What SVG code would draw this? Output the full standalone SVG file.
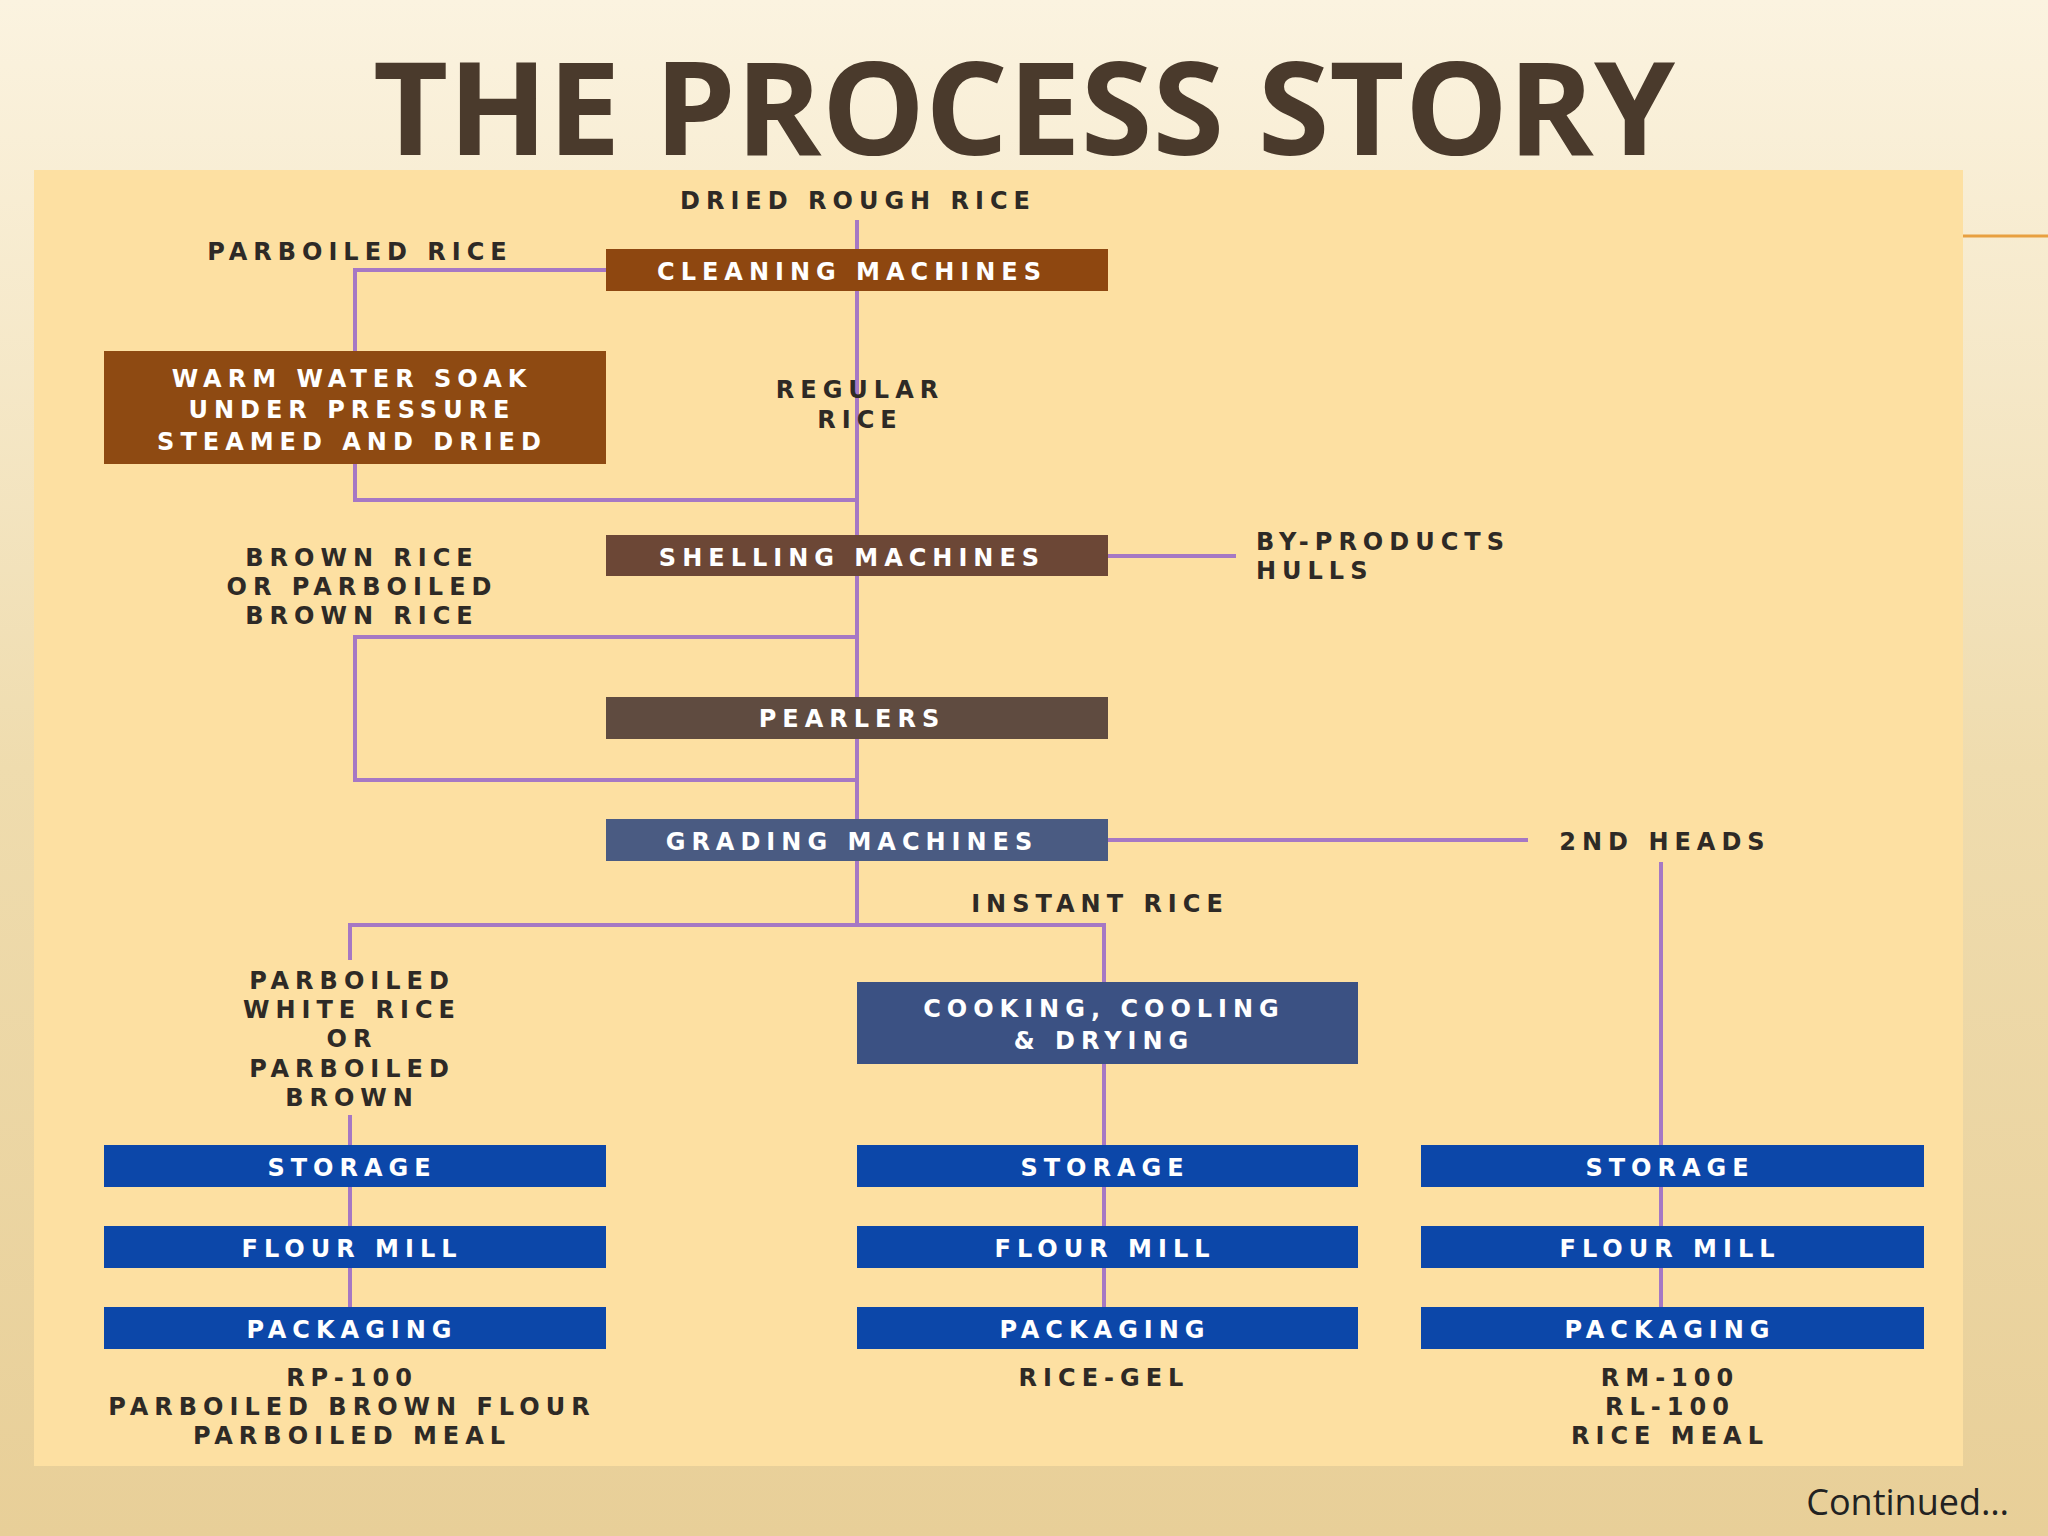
<svg xmlns="http://www.w3.org/2000/svg" width="2048" height="1536" viewBox="0 0 2048 1536">
<defs>
<linearGradient id="bg" x1="0" y1="0" x2="0" y2="1"><stop offset="0" stop-color="#fbf3e0"/><stop offset="0.5" stop-color="#efdcae"/><stop offset="1" stop-color="#e8cf98"/></linearGradient>
</defs>
<style>
.l{stroke:#a678c4;stroke-width:4;fill:none}
.t{font-family:"DejaVu Sans",sans-serif;font-weight:bold;font-size:24px;letter-spacing:6px;fill:#2e2a26;text-anchor:middle}
.s{text-anchor:start}
.w{font-family:"DejaVu Sans",sans-serif;font-weight:bold;font-size:24px;letter-spacing:6px;fill:#fff;text-anchor:middle}
.b{fill:#0c47a9}
</style>
<rect width="2048" height="1536" fill="url(#bg)"/>
<line x1="1963" y1="236" x2="2048" y2="236" stroke="#e8a040" stroke-width="3"/>
<text x="1024" y="155" font-family="'Open Sans',sans-serif" font-weight="bold" font-size="130" fill="#4a3a2c" text-anchor="middle">THE PROCESS STORY</text>
<rect x="34" y="170" width="1929" height="1296" fill="#fde0a2"/>
<g id="connectors">
<path class="l" d="M857 220V925"/>
<path class="l" d="M606 270H355V351M355 464V500H857"/>
<path class="l" d="M857 637H355V780H857"/>
<path class="l" d="M1108 556H1236"/>
<path class="l" d="M1108 840H1528"/>
<path class="l" d="M1661 862V1307"/>
<path class="l" d="M350 960V925H1104V982"/>
<path class="l" d="M350 1115V1307"/>
<path class="l" d="M1104 1064V1307"/>
</g>
<g id="cleaning"><rect x="606" y="249" width="502" height="42" fill="#8e4710"/><text class="w" x="852" y="280">CLEANING MACHINES</text></g>
<g id="soak"><rect x="104" y="351" width="502" height="113" fill="#8e4a12"/><text class="w" x="352" y="387">WARM WATER SOAK</text><text class="w" x="352" y="418">UNDER PRESSURE</text><text class="w" x="352" y="450">STEAMED AND DRIED</text></g>
<g id="shelling"><rect x="606" y="535" width="502" height="41" fill="#6c4736"/><text class="w" x="852" y="566">SHELLING MACHINES</text></g>
<g id="pearlers"><rect x="606" y="697" width="502" height="42" fill="#5f4b40"/><text class="w" x="852" y="727">PEARLERS</text></g>
<g id="grading"><rect x="606" y="819" width="502" height="42" fill="#4a5b82"/><text class="w" x="852" y="850">GRADING MACHINES</text></g>
<g id="cooking"><rect x="857" y="982" width="501" height="82" fill="#3b5183"/><text class="w" x="1104" y="1017">COOKING, COOLING</text><text class="w" x="1104" y="1049">&amp; DRYING</text></g>
<g id="storage1"><rect class="b" x="104" y="1145" width="502" height="42"/><text class="w" x="352" y="1176">STORAGE</text></g>
<g id="flour1"><rect class="b" x="104" y="1226" width="502" height="42"/><text class="w" x="352" y="1257">FLOUR MILL</text></g>
<g id="pack1"><rect class="b" x="104" y="1307" width="502" height="42"/><text class="w" x="352" y="1338">PACKAGING</text></g>
<g id="storage2"><rect class="b" x="857" y="1145" width="501" height="42"/><text class="w" x="1105" y="1176">STORAGE</text></g>
<g id="flour2"><rect class="b" x="857" y="1226" width="501" height="42"/><text class="w" x="1105" y="1257">FLOUR MILL</text></g>
<g id="pack2"><rect class="b" x="857" y="1307" width="501" height="42"/><text class="w" x="1105" y="1338">PACKAGING</text></g>
<g id="storage3"><rect class="b" x="1421" y="1145" width="503" height="42"/><text class="w" x="1670" y="1176">STORAGE</text></g>
<g id="flour3"><rect class="b" x="1421" y="1226" width="503" height="42"/><text class="w" x="1670" y="1257">FLOUR MILL</text></g>
<g id="pack3"><rect class="b" x="1421" y="1307" width="503" height="42"/><text class="w" x="1670" y="1338">PACKAGING</text></g>
<g id="labels">
<text class="t" x="858" y="209">DRIED ROUGH RICE</text>
<text class="t" x="360" y="260">PARBOILED RICE</text>
<text class="t" x="860" y="398">REGULAR</text><text class="t" x="860" y="428">RICE</text>
<text class="t" x="362" y="566">BROWN RICE</text><text class="t" x="362" y="595">OR PARBOILED</text><text class="t" x="362" y="624">BROWN RICE</text>
<text class="t s" x="1256" y="550">BY-PRODUCTS</text><text class="t s" x="1256" y="579">HULLS</text>
<text class="t" x="1665" y="850">2ND HEADS</text>
<text class="t" x="1100" y="912">INSTANT RICE</text>
<text class="t" x="352" y="989">PARBOILED</text><text class="t" x="352" y="1018">WHITE RICE</text><text class="t" x="352" y="1047">OR</text><text class="t" x="352" y="1077">PARBOILED</text><text class="t" x="352" y="1106">BROWN</text>
<text class="t" x="352" y="1386">RP-100</text><text class="t" x="352" y="1415">PARBOILED BROWN FLOUR</text><text class="t" x="352" y="1444">PARBOILED MEAL</text>
<text class="t" x="1104" y="1386">RICE-GEL</text>
<text class="t" x="1670" y="1386">RM-100</text><text class="t" x="1670" y="1415">RL-100</text><text class="t" x="1670" y="1444">RICE MEAL</text>
</g>
<text x="2009" y="1515" font-family="'Open Sans',sans-serif" font-size="36" fill="#222" text-anchor="end">Continued…</text>
</svg>
